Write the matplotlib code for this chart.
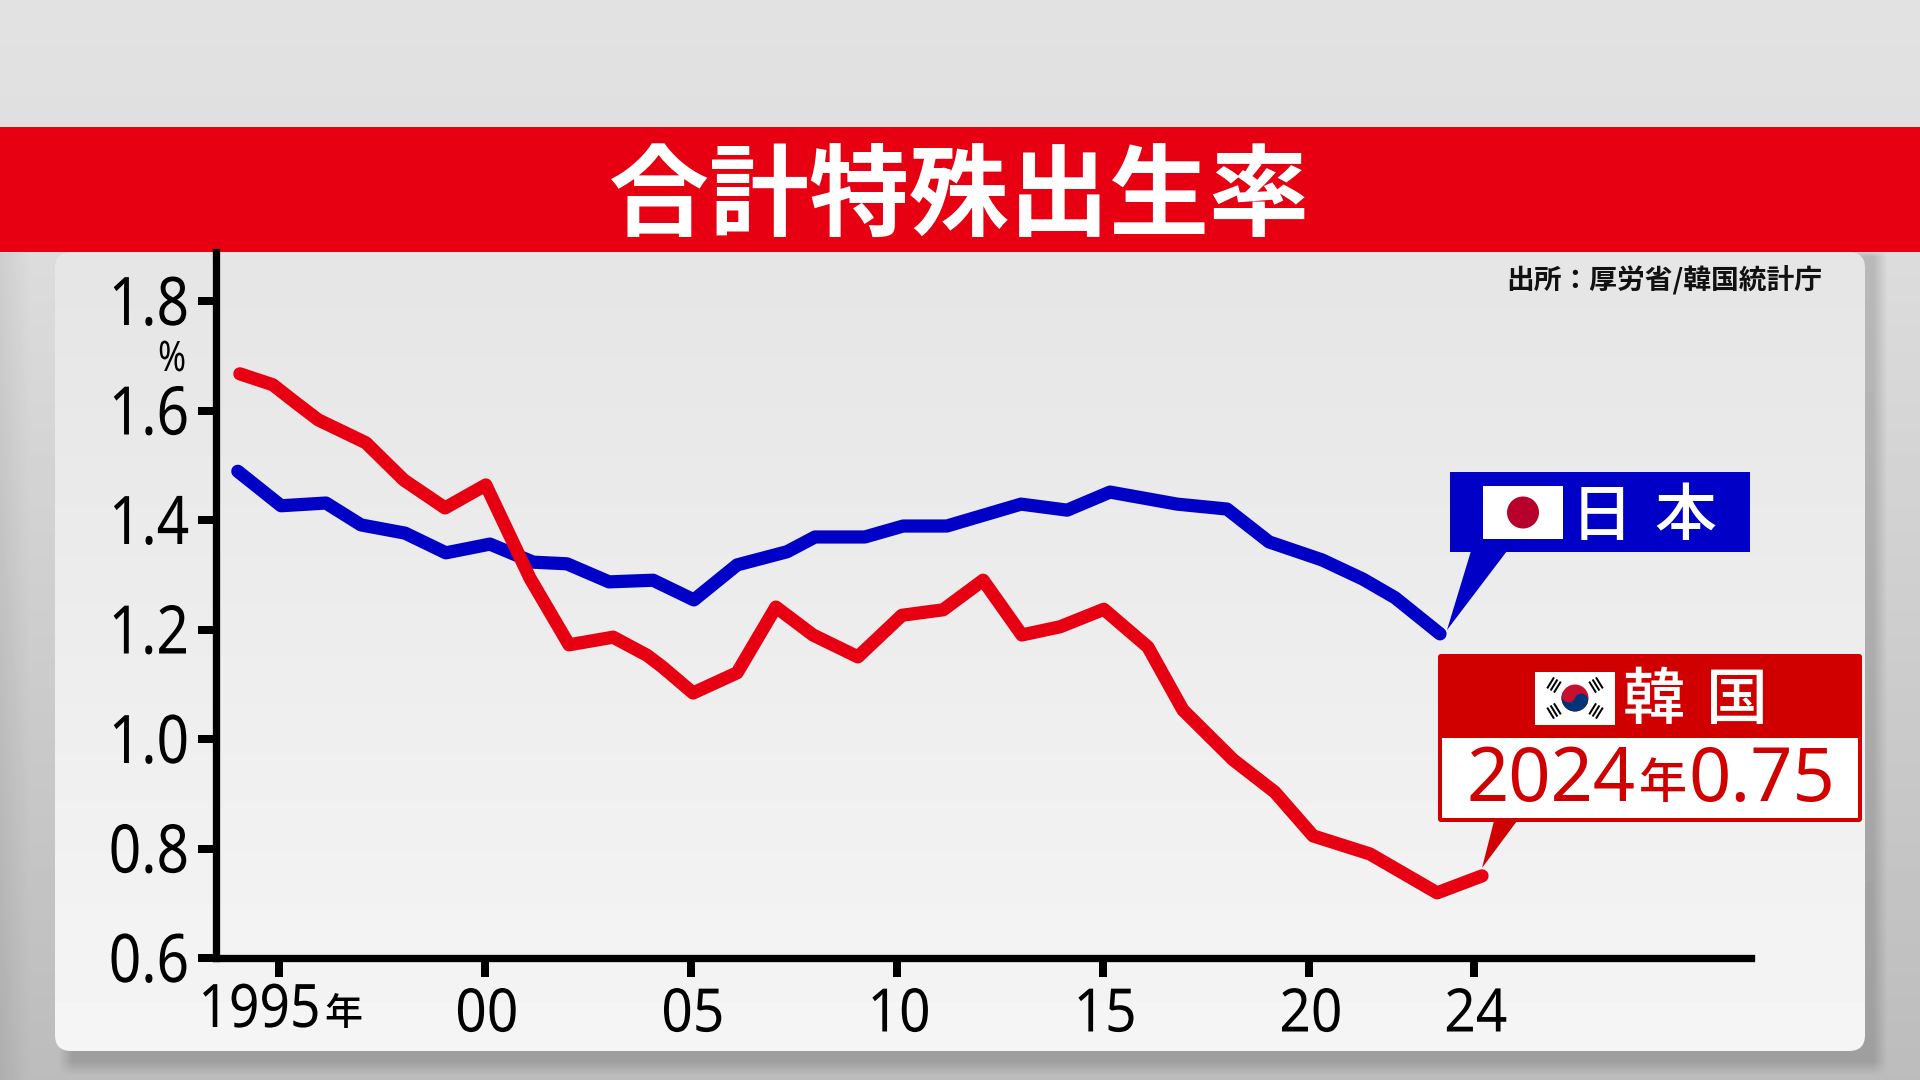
import numpy as np
import matplotlib
matplotlib.use("Agg")
import matplotlib.pyplot as plt
from matplotlib.patches import Rectangle, FancyBboxPatch, Polygon, Circle, Wedge
from matplotlib.patheffects import AbstractPathEffect
from matplotlib.transforms import Affine2D

CJK = 'Noto Sans CJK JP'
NUM = ['Noto Sans', CJK]
plt.rcParams['font.family'] = [CJK, 'DejaVu Sans']

title = '合計特殊出生率'
source = '出所：厚労省/韓国統計庁'
y_ticks = [0.6, 0.8, 1.0, 1.2, 1.4, 1.6, 1.8]
x_ticks = [1995, 2000, 2005, 2010, 2015, 2020, 2024]
x_tick_labels = ['', '00', '05', '10', '15', '20', '24']

japan_years = [1994.0, 1995.05, 1996.14, 1996.99, 1998.06, 1999.05, 2000.12, 2001.17, 2001.99, 2003.01,
               2004.08, 2005.07, 2006.12, 2007.33, 2008.01, 2009.22, 2010.15, 2011.21, 2013.01, 2014.13,
               2015.17, 2016.80, 2018.01, 2019.03, 2020.32, 2021.31, 2022.09, 2023.18]
japan_vals = [1.489, 1.426, 1.431, 1.391, 1.376, 1.340, 1.356, 1.323, 1.320, 1.287,
              1.290, 1.254, 1.318, 1.342, 1.369, 1.369, 1.389, 1.389, 1.429, 1.418,
              1.451, 1.429, 1.420, 1.360, 1.327, 1.292, 1.258, 1.192]
korea_years = [1994.05, 1994.85, 1995.41, 1995.95, 1997.11, 1998.03, 1999.03, 2000.02, 2001.09, 2002.04,
               2003.11, 2003.93, 2004.30, 2005.05, 2006.12, 2007.06, 2007.96, 2009.05, 2010.12, 2011.12,
               2012.09, 2013.03, 2013.96, 2015.02, 2016.09, 2016.94, 2018.16, 2019.17, 2020.10, 2021.48,
               2023.11, 2024.2]
korea_vals = [1.667, 1.647, 1.614, 1.583, 1.541, 1.473, 1.422, 1.464, 1.294, 1.172,
              1.186, 1.153, 1.132, 1.084, 1.121, 1.241, 1.190, 1.150, 1.226, 1.236,
              1.290, 1.190, 1.205, 1.237, 1.168, 1.053, 0.962, 0.903, 0.823, 0.790,
              0.719, 0.750]

RED = '#e60012'
BLUE = '#0000c6'
BOX_RED = '#d00000'
W, H = 1920, 1080
px = 0.72  # points per pixel at dpi 100


class HScale(AbstractPathEffect):
    """Narrows a text horizontally around its right edge or centre."""
    def __init__(self, sx, anchor='center', dx=0, dy=0):
        super().__init__()
        self.sx, self.anchor, self.dx, self.dy = sx, anchor, dx, dy

    def draw_path(self, renderer, gc, tpath, affine, rgbFace=None):
        bb = tpath.get_extents(affine)
        c = bb.x1 if self.anchor == 'right' else 0.5 * (bb.x0 + bb.x1)
        t = affine + Affine2D().translate(-c, 0).scale(self.sx, 1).translate(c + self.dx, self.dy)
        renderer.draw_path(gc, tpath, t, rgbFace)


fig = plt.figure(figsize=(19.2, 10.8), dpi=100)

def pixel_axes(z):
    a = fig.add_axes([0, 0, 1, 1], zorder=z)
    a.set_xlim(0, W)
    a.set_ylim(H, 0)
    a.axis('off')
    a.patch.set_alpha(0)
    return a

# background
deco = pixel_axes(0)
yy, xx = np.mgrid[0:H, 0:W]
bg = np.where(yy < 252, 0xe2 - 5 * yy / 252, 0xdc - 0x20 * (yy - 252) / (H - 252))
bg = bg - np.where(yy > 252, 14 * np.clip(1 - xx / 30, 0, 1), 0)
mask = (np.clip((1887 - xx) / 14, 0, 1) * np.clip((xx - 58) / 14, 0, 1)
        * np.clip((1075 - yy) / 14, 0, 1) * np.clip((yy - 250) / 6, 0, 1))
bg = bg * (1 - 0.16 * mask)
deco.imshow(bg, cmap='gray', vmin=0, vmax=255, extent=(0, W, H, 0), aspect='auto', zorder=0,
            interpolation='bilinear')
deco.set_xlim(0, W)
deco.set_ylim(H, 0)

panel = FancyBboxPatch((70, 267), 1780, 769, boxstyle='round,pad=15,rounding_size=16',
                       fc='none', ec='none', zorder=1)
deco.add_patch(panel)
grad = np.linspace(0xe5, 0xf5, 256)[:, None]
im = deco.imshow(grad, cmap='gray', vmin=0, vmax=255, extent=(55, 1865, 1051, 252), aspect='auto',
                 zorder=1, interpolation='bilinear')
im.set_clip_path(panel)
deco.set_xlim(0, W)
deco.set_ylim(H, 0)

deco.add_patch(Rectangle((0, 127), W, 125, fc=RED, ec='none', zorder=2))
deco.text(959, 198, title, color='white', fontsize=72, fontweight='bold', ha='center', va='center', zorder=3)
deco.text(1664, 281, source, color='#111111', fontsize=20, fontweight='bold', ha='center', va='center', zorder=3)

# chart
PX_PER_UNIT = 547.5
ax = fig.add_axes([216 / W, (H - 958) / H, (1751 - 216) / W, (958 - 252) / H], zorder=1)
ax.patch.set_alpha(0)
ax.set_xlim(1995 - (279 - 216) / 41.2, 1995 + (1751 - 279) / 41.2)
ax.set_ylim(0.6, 0.6 + (958 - 252) / PX_PER_UNIT)
for s in ('top', 'right'):
    ax.spines[s].set_visible(False)
for s in ('left', 'bottom'):
    ax.spines[s].set_linewidth(7.3 * px)
    ax.spines[s].set_color('black')
ax.plot(japan_years, japan_vals, color=BLUE, lw=13.2 * px, solid_capstyle='round', solid_joinstyle='round', zorder=3, clip_on=False)
ax.plot(korea_years, korea_vals, color=RED, lw=13.2 * px, solid_capstyle='round', solid_joinstyle='round', zorder=4, clip_on=False)
ax.set_yticks(y_ticks)
ax.set_yticklabels([f'{v:.1f}' for v in y_ticks], fontsize=67 * px, family=NUM)
ax.set_xticks(x_ticks)
ax.set_xticklabels(x_tick_labels, fontsize=60 * px, family=NUM)
ax.tick_params(axis='both', length=18.5 * px, width=8 * px, color='black')
ax.tick_params(axis='y', pad=8 * px)
ax.tick_params(axis='x', pad=9 * px)
for lab in ax.get_yticklabels():
    lab.set_path_effects([HScale(0.85, 'right', dy=2)])
for lab in ax.get_xticklabels():
    lab.set_path_effects([HScale(0.92, dx=2)])

# overlay: labels and call-outs
top = pixel_axes(3)
t = top.text(321, 1011, '1995', fontsize=60 * px, family=NUM, ha='right', va='center', color='black')
t.set_path_effects([HScale(0.89, 'right')])
top.text(343, 1014, '年', fontsize=38 * px, fontweight='medium', ha='center', va='center', color='black')
t = top.text(172, 360, '%', fontsize=42 * px, family=NUM, fontweight='medium', ha='center', va='center', color='black')
t.set_path_effects([HScale(0.8)])

# Japan box
top.add_patch(Polygon([(1471, 551), (1507, 551), (1447, 630)], fc=BLUE, ec='none'))
top.add_patch(Rectangle((1450, 472), 300, 80, fc=BLUE, ec='none'))
top.add_patch(Rectangle((1483, 486), 80, 53, fc='white', ec='none'))
top.add_patch(Circle((1523, 512.5), 16, fc='#b8002c', ec='none'))
top.text(1602, 517, '日', color='white', fontsize=62 * px, fontweight='medium', ha='center', va='center')
top.text(1685, 517, '本', color='white', fontsize=62 * px, fontweight='medium', ha='center', va='center')

# Korea box
top.add_patch(Polygon([(1494, 821), (1517, 821), (1482, 868)], fc=BOX_RED, ec='none'))
top.add_patch(FancyBboxPatch((1441, 657), 418, 162, boxstyle='round,pad=3,rounding_size=3', fc=BOX_RED, ec='none'))
top.add_patch(Rectangle((1442, 738), 416, 80, fc='white', ec='none'))
top.add_patch(Rectangle((1535, 672), 80, 53, fc='white', ec='none'))
cx, cy, r, tilt = 1575, 698, 13.5, 20
top.add_patch(Circle((cx, cy), r, fc='#c8102e', ec='none'))
top.add_patch(Wedge((cx, cy), r, tilt, tilt + 180, fc='#003478', ec='none'))
dx, dy = r / 2 * np.cos(np.radians(tilt)), r / 2 * np.sin(np.radians(tilt))
top.add_patch(Circle((cx - dx, cy - dy), r / 2, fc='#c8102e', ec='none'))
top.add_patch(Circle((cx + dx, cy + dy), r / 2, fc='#003478', ec='none'))
for tx, ty in [(1554, 685), (1596, 685), (1554, 711), (1596, 711)]:
    ux, uy = np.array([tx - cx, ty - cy]) / np.hypot(tx - cx, ty - cy)
    for k in (-4, 0, 4):
        mx, my = tx + ux * k, ty + uy * k
        top.plot([mx - uy * 6.5, mx + uy * 6.5], [my + ux * 6.5, my - ux * 6.5], color='black', lw=2 * px, solid_capstyle='butt')
top.set_xlim(0, W)
top.set_ylim(H, 0)
top.text(1654, 702, '韓', color='white', fontsize=62 * px, fontweight='medium', ha='center', va='center')
top.text(1737, 702, '国', color='white', fontsize=62 * px, fontweight='medium', ha='center', va='center')
top.text(1636, 782, '2024', color=BOX_RED, fontsize=74 * px, family=NUM, fontweight='medium', ha='right', va='center')
top.text(1663, 784, '年', color=BOX_RED, fontsize=48 * px, fontweight='medium', ha='center', va='center')
top.text(1688, 782, '0.75', color=BOX_RED, fontsize=74 * px, family=NUM, fontweight='medium', ha='left', va='center')

fig.savefig('out.png', dpi=100)
